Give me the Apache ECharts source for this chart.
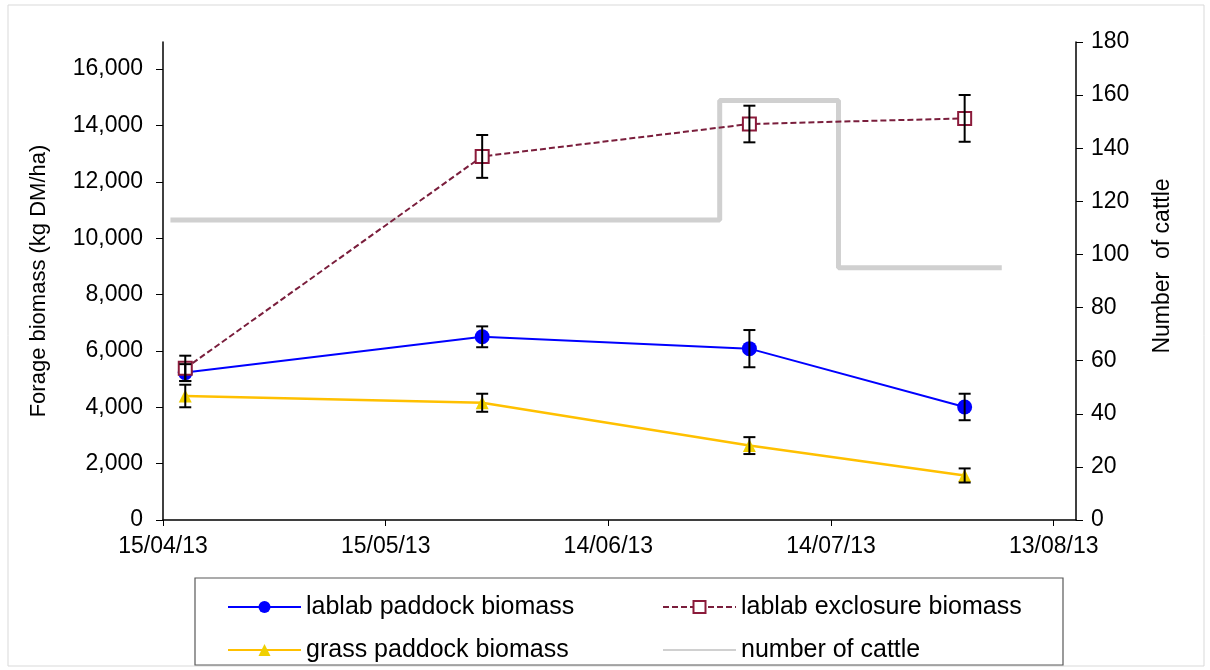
<!DOCTYPE html>
<html>
<head>
    <meta charset="utf-8">
    <script src="https://cdn.jsdelivr.net/npm/echarts@6/dist/echarts.min.js"></script>
    <style>
        html, body { margin: 0; padding: 0; background: #fff; }
    </style>
</head>
<body>
    <div id="chart" style="width: 1210px;height:670px;"></div>
    <script type="text/javascript">
        // sampling dates (dd/mm/yy) and biomass values, kg DM/ha
        var sampleDates = ['18/04/13', '28/05/13', '03/07/13', '01/08/13'];
        var lablabPaddock = [5230, 6500, 6080, 4010];
        var lablabPaddockErr = [300, 370, 660, 470];
        var lablabExclosure = [5380, 12900, 14050, 14250];
        var lablabExclosureErr = [450, 760, 650, 830];
        var grassPaddock = [4400, 4160, 2640, 1580];
        var grassPaddockErr = [400, 320, 300, 250];
        // stocking changes
        var cattleDates = ['16/04/13', '29/06/13', '15/07/13', '06/08/13'];
        var cattleCount = [113, 158, 95, 95];
        var xTickStep = 30;   // days between date labels

        var base = Date.UTC(2013, 3, 15);
        function day(s) {
            var p = s.split('/');
            return (Date.UTC(2000 + parseInt(p[2], 10), parseInt(p[1], 10) - 1, parseInt(p[0], 10)) - base) / 86400000;
        }
        function two(n) { return (n < 10 ? '0' : '') + n; }
        function dateLabel(v) {
            var d = new Date(base + v * 86400000);
            return two(d.getUTCDate()) + '/' + two(d.getUTCMonth() + 1) + '/' + two(d.getUTCFullYear() % 100);
        }
        function pts(vals) {
            return sampleDates.map(function (d, i) { return [day(d), vals[i]]; });
        }
        function errPts(vals, errs) {
            return sampleDates.map(function (d, i) { return [day(d), vals[i], errs[i]]; });
        }
        function errorBars(params, api) {
            var x = api.value(0), y = api.value(1), e = api.value(2);
            var top = api.coord([x, y + e]);
            var bot = api.coord([x, y - e]);
            var w = 6;
            var st = { stroke: '#000', lineWidth: 2 };
            return {
                type: 'group',
                children: [
                    { type: 'line', shape: { x1: top[0], y1: top[1], x2: bot[0], y2: bot[1] }, style: st },
                    { type: 'line', shape: { x1: top[0] - w, y1: top[1], x2: top[0] + w, y2: top[1] }, style: st },
                    { type: 'line', shape: { x1: bot[0] - w, y1: bot[1], x2: bot[0] + w, y2: bot[1] }, style: st }
                ]
            };
        }

        var font = 'Liberation Sans, Arial, sans-serif';
        var myChart = echarts.init(document.getElementById('chart'));
        var legendText = { fontSize: 25, color: '#000', fontFamily: font, lineHeight: 26 };
        var option = {
            animation: false,
            backgroundColor: '#fff',
            textStyle: { fontFamily: font },
            graphic: [
                { type: 'rect', shape: { x: 8, y: 5, width: 1196, height: 661 },
                  style: { fill: 'none', stroke: '#d9d9d9', lineWidth: 1 }, silent: true },
                { type: 'rect', shape: { x: 195, y: 578, width: 868, height: 87 },
                  style: { fill: 'none', stroke: '#595959', lineWidth: 1.2 }, silent: true }
            ],
            grid: { left: 163, right: 134, top: 42, bottom: 150 },
            legend: [
                { orient: 'vertical', left: 227, top: 594, padding: 0, height: 74,
                  itemWidth: 73, itemHeight: 15, itemGap: 17,
                  textStyle: legendText, data: ['lablab paddock biomass', 'grass paddock biomass'] },
                { orient: 'vertical', left: 662, top: 594, padding: 0, height: 74,
                  itemWidth: 73, itemHeight: 15, itemGap: 17,
                  textStyle: legendText,
                  data: ['lablab exclosure biomass', { name: 'number of cattle', itemStyle: { opacity: 0 } }] }
            ],
            xAxis: {
                type: 'value', min: 0, max: 123, interval: xTickStep,
                axisLine: { lineStyle: { color: '#000', width: 1.5 } },
                axisTick: { length: 6, lineStyle: { color: '#000' } },
                axisLabel: {
                    fontSize: 23, color: '#000', margin: 15, showMaxLabel: false,
                    formatter: function (v) { return v % xTickStep === 0 ? dateLabel(v) : ''; }
                },
                splitLine: { show: false }
            },
            yAxis: [
                {
                    type: 'value', min: 0, max: 16960, interval: 2000,
                    name: 'Forage biomass (kg DM/ha)', nameLocation: 'middle', nameGap: 113, nameRotate: 90,
                    nameTextStyle: { fontSize: 22, color: '#000', fontFamily: font },
                    axisLine: { show: true, lineStyle: { color: '#000', width: 1.5 } },
                    axisTick: { show: true, length: 7, lineStyle: { color: '#000' } },
                    axisLabel: {
                        fontSize: 23, color: '#000', margin: 20, showMaxLabel: false,
                        formatter: function (v) { return v.toLocaleString('en-US'); }
                    },
                    splitLine: { show: false }
                },
                {
                    type: 'value', min: 0, max: 180, interval: 20, position: 'right',
                    name: 'Number  of cattle', nameLocation: 'middle', nameGap: 75, nameRotate: 90,
                    nameTextStyle: { fontSize: 23, color: '#000', fontFamily: font, padding: [0, 0, 0, 30] },
                    axisLine: { show: true, lineStyle: { color: '#000', width: 1.5 } },
                    axisTick: { show: true, length: 7, lineStyle: { color: '#000' } },
                    axisLabel: { fontSize: 23, color: '#000', margin: 15 },
                    splitLine: { show: false }
                }
            ],
            series: [
                {
                    name: 'number of cattle', type: 'line', yAxisIndex: 1, step: 'end', z: 1,
                    symbol: 'none',
                    data: cattleDates.map(function (d, i) { return [day(d), cattleCount[i]]; }),
                    lineStyle: { color: '#d0d0d0', width: 5 },
                    itemStyle: { color: '#d0d0d0' }
                },
                {
                    name: 'lablab paddock biomass', type: 'line', z: 3,
                    data: pts(lablabPaddock),
                    symbol: 'circle', symbolSize: 15,
                    lineStyle: { color: '#0000ff', width: 2 },
                    itemStyle: { color: '#0000ff' }
                },
                {
                    name: 'lablab exclosure biomass', type: 'line', z: 3,
                    data: pts(lablabExclosure),
                    symbol: 'rect', symbolSize: 13,
                    lineStyle: { color: '#7a1e3c', width: 2, type: [6, 3] },
                    itemStyle: { color: '#fff', borderColor: '#8b1a3a', borderWidth: 2 }
                },
                {
                    name: 'grass paddock biomass', type: 'line', z: 3,
                    data: pts(grassPaddock),
                    symbol: 'triangle', symbolSize: 13,
                    lineStyle: { color: '#ffc000', width: 2.5 },
                    itemStyle: { color: '#f0d000' }
                },
                { type: 'custom', z: 5, silent: true, renderItem: errorBars, data: errPts(lablabPaddock, lablabPaddockErr) },
                { type: 'custom', z: 5, silent: true, renderItem: errorBars, data: errPts(lablabExclosure, lablabExclosureErr) },
                { type: 'custom', z: 5, silent: true, renderItem: errorBars, data: errPts(grassPaddock, grassPaddockErr) }
            ]
        };
        myChart.setOption(option);
    </script>
</body>
</html>
